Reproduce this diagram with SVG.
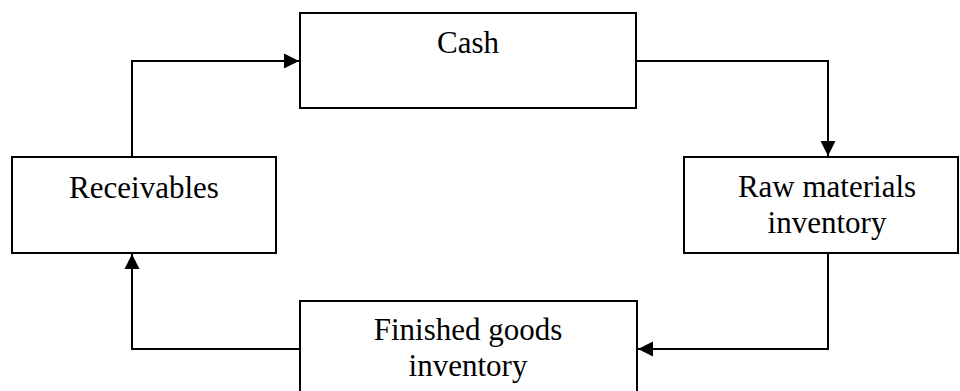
<svg xmlns="http://www.w3.org/2000/svg" width="960" height="391" viewBox="0 0 960 391">
<defs>
<marker id="arr" markerUnits="userSpaceOnUse" markerWidth="16" markerHeight="16" viewBox="0 0 16 16" refX="15" refY="8" orient="auto">
<path d="M0,0.5 L15,8 L0,15.5 Z" fill="#000"/>
</marker>
<style>
.box{fill:#fff;stroke:#000;stroke-width:2}
.lbl{font-family:"Liberation Serif","Times New Roman",serif;font-size:31px;fill:#000;text-anchor:middle}
.con{fill:none;stroke:#000;stroke-width:2;marker-end:url(#arr)}
</style>
</defs>
<rect width="960" height="391" fill="#fff"/>
<g id="connectors">
<path class="con" d="M636,61 H828 V156"/>
<path class="con" d="M828,253 V349 H638"/>
<path class="con" d="M300,349 H132 V254"/>
<path class="con" d="M132,157 V61 H299"/>
</g>
<g id="cash">
<rect class="box" x="300" y="13" width="336" height="95"/>
<text class="lbl" x="468" y="53">Cash</text>
</g>
<g id="raw">
<rect class="box" x="684" y="157" width="274" height="96"/>
<text class="lbl" x="827" y="197">Raw materials</text>
<text class="lbl" x="827" y="233">inventory</text>
</g>
<g id="finished">
<rect class="box" x="300" y="301" width="337" height="100"/>
<text class="lbl" x="468" y="340">Finished goods</text>
<text class="lbl" x="468" y="376">inventory</text>
</g>
<g id="receivables">
<rect class="box" x="12" y="157" width="264" height="96"/>
<text class="lbl" x="144" y="198">Receivables</text>
</g>
</svg>
